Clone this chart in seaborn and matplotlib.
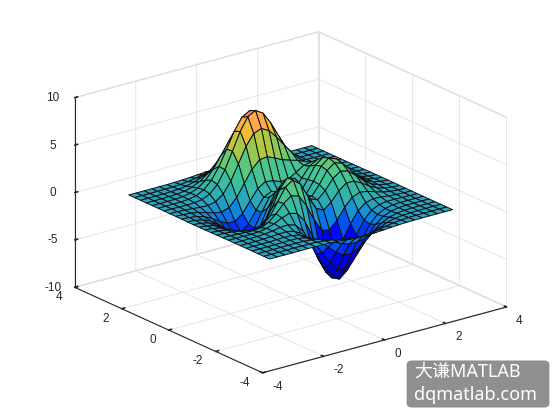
import matplotlib
matplotlib.use('Agg')
import matplotlib.pyplot as plt
from matplotlib.colors import Normalize
from matplotlib.patches import FancyBboxPatch
import numpy as np
import seaborn as sns

# surface heights, one row per y value, one column per x value
x_values = [-3, -2.75, -2.5, -2.25, -2, -1.75, -1.5, -1.25, -1, -0.75, -0.5, -0.25, 0,
            0.25, 0.5, 0.75, 1, 1.25, 1.5, 1.75, 2, 2.25, 2.5, 2.75, 3]
y_values = x_values
z_values = [
    [0, 0, 0, 0, 0, .01, 0, 0, -.03, -.07, -.14, -.20, -.24, -.25, -.22, -.17, -.11, -.06, -.03, -.01, 0, 0, 0, 0, 0],
    [0, 0, 0, 0, .01, .01, 0, -.02, -.10, -.22, -.39, -.56, -.68, -.69, -.61, -.46, -.30, -.17, -.08, -.03, -.01, 0, 0, 0, 0],
    [0, 0, 0, .01, .01, .02, 0, -.07, -.23, -.53, -.91, -1.31, -1.57, -1.60, -1.41, -1.06, -.69, -.38, -.18, -.08, -.03, -.01, 0, 0, 0],
    [0, 0, .01, .01, .03, .04, .01, -.12, -.44, -.99, -1.74, -2.51, -3.02, -3.10, -2.72, -2.05, -1.32, -.73, -.35, -.14, -.05, -.01, 0, 0, 0],
    [0, 0, .01, .02, .05, .07, .05, -.13, -.59, -1.45, -2.64, -3.88, -4.76, -4.93, -4.35, -3.27, -2.10, -1.15, -.53, -.20, -.06, -.01, 0, 0, 0],
    [0, 0, .01, .03, .07, .13, .15, .02, -.46, -1.48, -3.01, -4.70, -5.98, -6.33, -5.64, -4.24, -2.69, -1.42, -.61, -.20, -.04, 0, .01, 0, 0],
    [0, 0, .01, .03, .08, .19, .33, .39, .15, -.68, -2.19, -4.08, -5.68, -6.33, -5.76, -4.32, -2.64, -1.27, -.44, -.07, .04, .05, .03, .01, 0],
    [0, -.01, -.01, -.01, .03, .17, .45, .84, 1.11, .88, -.14, -1.84, -3.60, -4.60, -4.40, -3.22, -1.74, -.56, .08, .27, .23, .13, .06, .02, .01],
    [-.01, -.02, -.06, -.10, -.13, -.04, .30, .98, 1.86, 2.45, 2.22, 1.00, -.72, -2.02, -2.22, -1.43, -.27, .58, .88, .77, .50, .26, .11, .04, .01],
    [-.02, -.05, -.12, -.25, -.42, -.51, -.28, .49, 1.78, 3.09, 3.63, 2.94, 1.40, -.01, -.41, .20, 1.18, 1.79, 1.78, 1.35, .82, .41, .18, .06, .02],
    [-.03, -.08, -.20, -.44, -.80, -1.16, -1.21, -.60, .80, 2.49, 3.55, 3.30, 2.00, .70, .39, 1.14, 2.20, 2.76, 2.56, 1.88, 1.12, .56, .24, .09, .03],
    [-.03, -.10, -.27, -.60, -1.14, -1.78, -2.16, -1.84, -.57, 1.23, 2.56, 2.63, 1.58, .53, .48, 1.50, 2.76, 3.37, 3.09, 2.25, 1.34, .67, .28, .10, .03],
    [-.04, -.11, -.30, -.69, -1.33, -2.14, -2.77, -2.71, -1.65, .06, 1.48, 1.75, .98, .19, .37, 1.57, 2.94, 3.58, 3.27, 2.37, 1.41, .70, .30, .11, .03],
    [-.04, -.11, -.29, -.67, -1.32, -2.16, -2.87, -2.98, -2.15, -.65, .68, 1.06, .52, -.03, .28, 1.47, 2.76, 3.36, 3.06, 2.22, 1.32, .66, .28, .10, .03],
    [-.03, -.09, -.25, -.57, -1.12, -1.85, -2.49, -2.64, -2.00, -.76, .39, .80, .46, .09, .38, 1.34, 2.38, 2.83, 2.56, 1.85, 1.09, .54, .23, .08, .03],
    [-.02, -.07, -.18, -.42, -.82, -1.33, -1.76, -1.78, -1.16, -.05, 1.04, 1.55, 1.42, 1.12, 1.17, 1.65, 2.17, 2.32, 1.99, 1.40, .82, .40, .17, .06, .02],
    [-.01, -.04, -.11, -.25, -.48, -.74, -.86, -.60, .23, 1.51, 2.79, 3.59, 3.69, 3.34, 2.93, 2.66, 2.43, 2.08, 1.58, 1.04, .58, .28, .11, .04, .01],
    [-.01, -.02, -.06, -.12, -.20, -.23, -.05, .55, 1.69, 3.29, 4.92, 6.06, 6.39, 5.94, 5.02, 3.97, 2.97, 2.09, 1.35, .79, .41, .19, .07, .03, .01],
    [0, -.01, -.02, -.03, -.01, .11, .48, 1.27, 2.61, 4.37, 6.20, 7.54, 8.00, 7.48, 6.25, 4.72, 3.25, 2.05, 1.19, .62, .29, .12, .05, .02, 0],
    [0, 0, 0, .01, .07, .24, .65, 1.43, 2.67, 4.29, 5.96, 7.22, 7.68, 7.20, 5.99, 4.45, 2.96, 1.78, .96, .47, .21, .08, .03, .01, 0],
    [0, 0, .01, .02, .08, .23, .55, 1.16, 2.10, 3.31, 4.56, 5.51, 5.86, 5.50, 4.57, 3.37, 2.21, 1.29, .68, .32, .13, .05, .02, 0, 0],
    [0, 0, 0, .02, .06, .15, .36, .74, 1.32, 2.07, 2.84, 3.43, 3.65, 3.43, 2.84, 2.09, 1.36, .79, .41, .19, .08, .03, .01, 0, 0],
    [0, 0, 0, .01, .03, .08, .19, .39, .69, 1.07, 1.47, 1.77, 1.89, 1.77, 1.47, 1.08, .70, .40, .20, .09, .04, .01, 0, 0, 0],
    [0, 0, 0, .01, .01, .04, .08, .17, .30, .47, .64, .77, .82, .77, .64, .47, .30, .17, .09, .04, .02, .01, 0, 0, 0],
    [0, 0, 0, 0, .01, .01, .03, .06, .11, .17, .23, .28, .30, .28, .23, .17, .11, .06, .03, .01, .01, 0, 0, 0, 0],
]
xy_ticks = [-4, -2, 0, 2, 4]
z_ticks = [-10, -5, 0, 5, 10]
watermark_lines = ['大谦MATLAB', 'dqmatlab.com']

sns.set_theme(style="white")
plt.rcParams['font.family'] = ['Liberation Sans', 'Noto Sans CJK SC', 'DejaVu Sans']
plt.rcParams['axes.unicode_minus'] = False

# one colour per unit of height, from -7 up to 8
surface_cmap = sns.blend_palette(['#000088', '#0000a8', '#0000c8', '#0000e0', '#0000ff', '#0038fa',
                                  '#0a80e4', '#28a6bc', '#30b8a8', '#40c498', '#58c880', '#80c860',
                                  '#b8c83c', '#ecc030', '#ffa850', '#ff6a78'], as_cmap=True)

fig = plt.figure(figsize=(5.6, 4.2), dpi=100, facecolor='white')
ax = fig.add_axes([5 / 560, 2 / 420, 1.0, 1.0], projection='3d')
ax.set_proj_type('ortho')
ax.view_init(elev=20.5, azim=-127.6)
ax.set_box_aspect((1.52, 1.52, 1.0), zoom=1.11)

X, Y = np.meshgrid(x_values, y_values)
Z = np.array(z_values)
ax.plot_surface(X, Y, Z, cmap=surface_cmap, norm=Normalize(-7, 8), rstride=1, cstride=1,
                edgecolor='#101018', linewidth=0.7, shade=False, antialiased=True)

ax.set_xlim(-4, 4)
ax.set_ylim(-4, 4)
ax.set_zlim(-10, 10)
ax.set_xticks(xy_ticks)
ax.set_yticks(xy_ticks)
ax.set_zticks(z_ticks)
ax.tick_params(labelsize=8.5, colors='#262626', pad=0)
for axis in (ax.xaxis, ax.yaxis, ax.zaxis):
    axis.set_pane_color((1, 1, 1, 1))
    axis.pane.set_edgecolor('#d8d8d8')
    axis.line.set_color('#262626')
    axis.line.set_linewidth(0.8)
    axis._axinfo['grid'].update(color='#e2e2e2', linewidth=0.6)
    axis._axinfo['tick'].update(inward_factor=0.0, outward_factor=0.15)
ax.zaxis.set_ticks_position('upper')

# label alignment moves the tick labels up, and sideways for x and y
for label in ax.get_xticklabels():
    label.set(va='center', ha='left')
for label in ax.get_yticklabels():
    label.set(va='baseline', ha='right')
for label in ax.get_zticklabels():
    label.set(va='center_baseline')

# grey badge bottom right
badge = FancyBboxPatch((410 / 560, (420 - 405) / 420), 136 / 560, 42 / 420,
                       boxstyle='round,pad=0.006,rounding_size=0.01', transform=fig.transFigure,
                       facecolor='#8f8f8f', edgecolor='none', zorder=5)
fig.add_artist(badge)
fig.text(414 / 560, (420 - 372) / 420, watermark_lines[0], color='white', fontsize=13,
         va='center', ha='left', family=['Noto Sans', 'Noto Sans CJK SC'], zorder=6)
fig.text(414 / 560, (420 - 395) / 420, watermark_lines[1], color='white', fontsize=13,
         va='center', ha='left', family=['Noto Sans', 'Noto Sans CJK SC'], zorder=6)

fig.savefig('out.png', dpi=100)
